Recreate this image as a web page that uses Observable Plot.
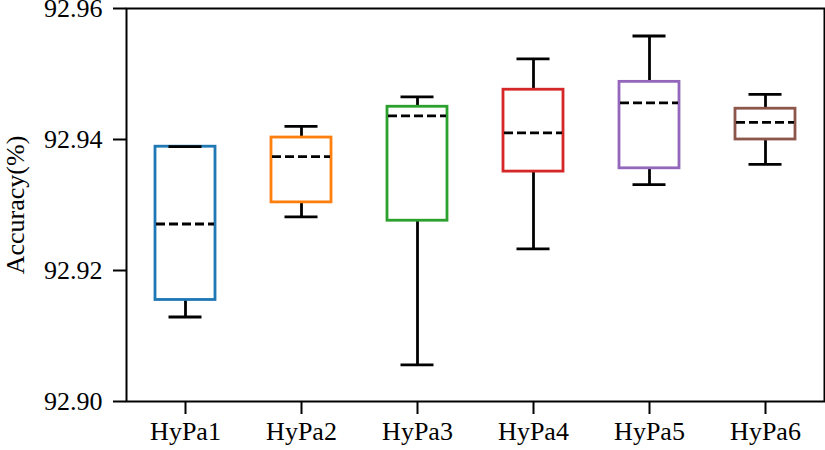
<!DOCTYPE html>
<html>
<head>
<meta charset="utf-8">
<script src="https://cdn.jsdelivr.net/npm/d3@7"></script>
<script src="https://cdn.jsdelivr.net/npm/@observablehq/plot@0.6"></script>
<style>
  html, body { margin: 0; padding: 0; background: #fff; }
  #chart svg, #chart svg text { font-family: "Liberation Serif", "Times New Roman", serif !important; font-size: 26px !important; }
</style>
</head>
<body>
<div id="chart"></div>
<script>
const categories = ["HyPa1", "HyPa2", "HyPa3", "HyPa4", "HyPa5", "HyPa6"];
const whiskerLow  = [92.9129, 92.9282, 92.9056, 92.9233, 92.9331, 92.9362];
const q1          = [92.9155, 92.9304, 92.9276, 92.9351, 92.9356, 92.9400];
const medians     = [92.9271, 92.9374, 92.9436, 92.9410, 92.9456, 92.9426];
const q3          = [92.9389, 92.9403, 92.9450, 92.9476, 92.9488, 92.9447];
const whiskerHigh = [92.9389, 92.9420, 92.9465, 92.9523, 92.9558, 92.9469];
const colors = ["#1f77b4", "#ff7f0e", "#2ca02c", "#d62728", "#9467bd", "#8c564b"];
const yTicks = [92.90, 92.92, 92.94, 92.96];

const rows = categories.map((c, i) => ({
  cat: c, lo: whiskerLow[i], q1: q1[i], med: medians[i], q3: q3[i], hi: whiskerHigh[i], color: colors[i]
}));

const boxInset = 28;
const capInset = 41.5;

const chart = Plot.plot({
  width: 825,
  height: 450,
  marginLeft: 126,
  marginRight: 1,
  marginTop: 8,
  marginBottom: 49,
  style: { fontFamily: "Liberation Serif", fontSize: "26px", color: "#000", background: "#fff" },
  x: { type: "band", domain: categories, padding: 0 },
  y: { domain: [92.90, 92.96] },
  marks: [
    Plot.axisX({ tickSize: 13, tickPadding: 7, strokeWidth: 2, label: null }),
    Plot.axisY({ ticks: yTicks, tickFormat: d3.format(".2f"), tickSize: 13, tickPadding: 11, strokeWidth: 2,
                 label: "Accuracy(%)", labelAnchor: "center", labelArrow: "none", labelOffset: 121 }),
    Plot.ruleX(rows, { x: "cat", y1: "lo", y2: "q1", stroke: "#000", strokeWidth: 2.8 }),
    Plot.ruleX(rows, { x: "cat", y1: "q3", y2: "hi", stroke: "#000", strokeWidth: 2.8 }),
    Plot.barY(rows, { x: "cat", y1: "q1", y2: "q3", fill: "none", stroke: "color", strokeWidth: 2.8, insetLeft: boxInset, insetRight: boxInset }),
    Plot.tickY(rows, { x: "cat", y: "lo", stroke: "#000", strokeWidth: 2.8, insetLeft: capInset, insetRight: capInset }),
    Plot.tickY(rows, { x: "cat", y: "hi", stroke: "#000", strokeWidth: 2.8, insetLeft: capInset, insetRight: capInset }),
    Plot.tickY(rows, { x: "cat", y: "med", stroke: "#000", strokeWidth: 2.8, strokeDasharray: "9,4", insetLeft: boxInset + 1, insetRight: boxInset + 1 }),
    Plot.frame({ stroke: "#000", strokeWidth: 2 })
  ]
});
document.getElementById("chart").appendChild(chart);
</script>
</body>
</html>
